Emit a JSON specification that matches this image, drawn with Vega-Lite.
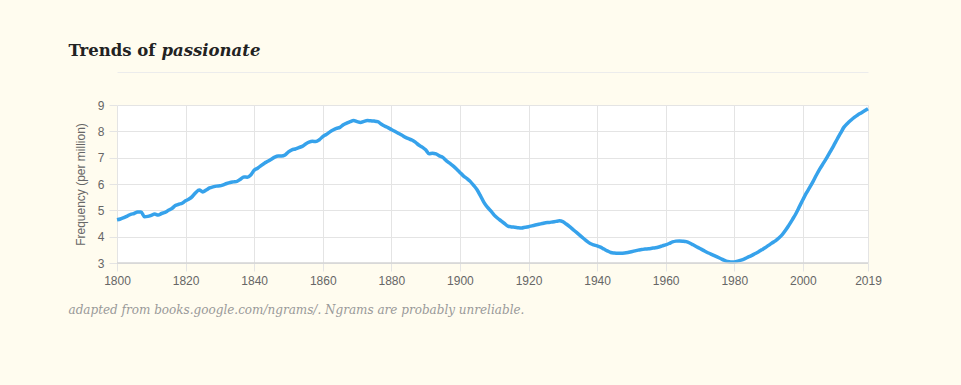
{
  "$schema": "https://vega.github.io/schema/vega-lite/v6.json",
  "width": 751,
  "height": 158,
  "autosize": {"type": "none"},
  "padding": {"left": 117, "top": 105, "right": 93, "bottom": 122},
  "background": "#fffcef",
  "view": {"fill": "white", "stroke": null},
  "data": {
    "values": [
      {"year": 1800, "freq": 4.64}, {"year": 1801, "freq": 4.67}, {"year": 1802, "freq": 4.72}, {"year": 1803, "freq": 4.78},
      {"year": 1804, "freq": 4.85}, {"year": 1805, "freq": 4.88}, {"year": 1806, "freq": 4.94}, {"year": 1807, "freq": 4.94},
      {"year": 1808, "freq": 4.76}, {"year": 1809, "freq": 4.77}, {"year": 1810, "freq": 4.81}, {"year": 1811, "freq": 4.86},
      {"year": 1812, "freq": 4.82}, {"year": 1813, "freq": 4.88}, {"year": 1814, "freq": 4.92}, {"year": 1815, "freq": 5.0},
      {"year": 1816, "freq": 5.07}, {"year": 1817, "freq": 5.18}, {"year": 1818, "freq": 5.23}, {"year": 1819, "freq": 5.27},
      {"year": 1820, "freq": 5.36}, {"year": 1821, "freq": 5.43}, {"year": 1822, "freq": 5.53}, {"year": 1823, "freq": 5.68},
      {"year": 1824, "freq": 5.77}, {"year": 1825, "freq": 5.7}, {"year": 1826, "freq": 5.77}, {"year": 1827, "freq": 5.85},
      {"year": 1828, "freq": 5.89}, {"year": 1829, "freq": 5.92}, {"year": 1830, "freq": 5.93}, {"year": 1831, "freq": 5.97},
      {"year": 1832, "freq": 6.02}, {"year": 1833, "freq": 6.06}, {"year": 1834, "freq": 6.08}, {"year": 1835, "freq": 6.1},
      {"year": 1836, "freq": 6.18}, {"year": 1837, "freq": 6.27}, {"year": 1838, "freq": 6.26}, {"year": 1839, "freq": 6.34},
      {"year": 1840, "freq": 6.52}, {"year": 1841, "freq": 6.6}, {"year": 1842, "freq": 6.7}, {"year": 1843, "freq": 6.79},
      {"year": 1844, "freq": 6.86}, {"year": 1845, "freq": 6.94}, {"year": 1846, "freq": 7.02}, {"year": 1847, "freq": 7.06},
      {"year": 1848, "freq": 7.06}, {"year": 1849, "freq": 7.1}, {"year": 1850, "freq": 7.22}, {"year": 1851, "freq": 7.3},
      {"year": 1852, "freq": 7.33}, {"year": 1853, "freq": 7.38}, {"year": 1854, "freq": 7.43}, {"year": 1855, "freq": 7.52},
      {"year": 1856, "freq": 7.59}, {"year": 1857, "freq": 7.62}, {"year": 1858, "freq": 7.61}, {"year": 1859, "freq": 7.68},
      {"year": 1860, "freq": 7.8}, {"year": 1861, "freq": 7.88}, {"year": 1862, "freq": 7.97}, {"year": 1863, "freq": 8.05},
      {"year": 1864, "freq": 8.11}, {"year": 1865, "freq": 8.15}, {"year": 1866, "freq": 8.25}, {"year": 1867, "freq": 8.31},
      {"year": 1868, "freq": 8.37}, {"year": 1869, "freq": 8.41}, {"year": 1870, "freq": 8.37}, {"year": 1871, "freq": 8.34},
      {"year": 1872, "freq": 8.38}, {"year": 1873, "freq": 8.41}, {"year": 1874, "freq": 8.4}, {"year": 1875, "freq": 8.39},
      {"year": 1876, "freq": 8.37}, {"year": 1877, "freq": 8.28}, {"year": 1878, "freq": 8.2}, {"year": 1879, "freq": 8.14},
      {"year": 1880, "freq": 8.07}, {"year": 1881, "freq": 8.0}, {"year": 1882, "freq": 7.93}, {"year": 1883, "freq": 7.86},
      {"year": 1884, "freq": 7.78}, {"year": 1885, "freq": 7.72}, {"year": 1886, "freq": 7.67}, {"year": 1887, "freq": 7.59},
      {"year": 1888, "freq": 7.48}, {"year": 1889, "freq": 7.4}, {"year": 1890, "freq": 7.3}, {"year": 1891, "freq": 7.15},
      {"year": 1892, "freq": 7.17}, {"year": 1893, "freq": 7.14}, {"year": 1894, "freq": 7.07}, {"year": 1895, "freq": 7.01},
      {"year": 1896, "freq": 6.89}, {"year": 1897, "freq": 6.79}, {"year": 1898, "freq": 6.69}, {"year": 1899, "freq": 6.57},
      {"year": 1900, "freq": 6.44}, {"year": 1901, "freq": 6.31}, {"year": 1902, "freq": 6.21}, {"year": 1903, "freq": 6.1},
      {"year": 1904, "freq": 5.95}, {"year": 1905, "freq": 5.78}, {"year": 1906, "freq": 5.55}, {"year": 1907, "freq": 5.3},
      {"year": 1908, "freq": 5.12}, {"year": 1909, "freq": 4.98}, {"year": 1910, "freq": 4.82}, {"year": 1911, "freq": 4.7},
      {"year": 1912, "freq": 4.6}, {"year": 1913, "freq": 4.5}, {"year": 1914, "freq": 4.4}, {"year": 1915, "freq": 4.37},
      {"year": 1916, "freq": 4.36}, {"year": 1917, "freq": 4.34}, {"year": 1918, "freq": 4.33}, {"year": 1919, "freq": 4.36},
      {"year": 1920, "freq": 4.38}, {"year": 1921, "freq": 4.41}, {"year": 1922, "freq": 4.44}, {"year": 1923, "freq": 4.47},
      {"year": 1924, "freq": 4.5}, {"year": 1925, "freq": 4.53}, {"year": 1926, "freq": 4.54}, {"year": 1927, "freq": 4.56},
      {"year": 1928, "freq": 4.58}, {"year": 1929, "freq": 4.6}, {"year": 1930, "freq": 4.57}, {"year": 1931, "freq": 4.48},
      {"year": 1932, "freq": 4.38}, {"year": 1933, "freq": 4.27}, {"year": 1934, "freq": 4.16}, {"year": 1935, "freq": 4.05},
      {"year": 1936, "freq": 3.94}, {"year": 1937, "freq": 3.83}, {"year": 1938, "freq": 3.74}, {"year": 1939, "freq": 3.69},
      {"year": 1940, "freq": 3.65}, {"year": 1941, "freq": 3.6}, {"year": 1942, "freq": 3.53}, {"year": 1943, "freq": 3.46},
      {"year": 1944, "freq": 3.4}, {"year": 1945, "freq": 3.38}, {"year": 1946, "freq": 3.37}, {"year": 1947, "freq": 3.37},
      {"year": 1948, "freq": 3.38}, {"year": 1949, "freq": 3.4}, {"year": 1950, "freq": 3.43}, {"year": 1951, "freq": 3.46},
      {"year": 1952, "freq": 3.49}, {"year": 1953, "freq": 3.51}, {"year": 1954, "freq": 3.53}, {"year": 1955, "freq": 3.54},
      {"year": 1956, "freq": 3.56}, {"year": 1957, "freq": 3.58}, {"year": 1958, "freq": 3.61}, {"year": 1959, "freq": 3.65},
      {"year": 1960, "freq": 3.69}, {"year": 1961, "freq": 3.74}, {"year": 1962, "freq": 3.8}, {"year": 1963, "freq": 3.83},
      {"year": 1964, "freq": 3.84}, {"year": 1965, "freq": 3.83}, {"year": 1966, "freq": 3.81}, {"year": 1967, "freq": 3.76},
      {"year": 1968, "freq": 3.69}, {"year": 1969, "freq": 3.62}, {"year": 1970, "freq": 3.55}, {"year": 1971, "freq": 3.48},
      {"year": 1972, "freq": 3.41}, {"year": 1973, "freq": 3.35}, {"year": 1974, "freq": 3.29}, {"year": 1975, "freq": 3.23},
      {"year": 1976, "freq": 3.17}, {"year": 1977, "freq": 3.11}, {"year": 1978, "freq": 3.06}, {"year": 1979, "freq": 3.04},
      {"year": 1980, "freq": 3.04}, {"year": 1981, "freq": 3.07}, {"year": 1982, "freq": 3.11}, {"year": 1983, "freq": 3.16},
      {"year": 1984, "freq": 3.22}, {"year": 1985, "freq": 3.28}, {"year": 1986, "freq": 3.35}, {"year": 1987, "freq": 3.42},
      {"year": 1988, "freq": 3.5}, {"year": 1989, "freq": 3.58}, {"year": 1990, "freq": 3.67}, {"year": 1991, "freq": 3.76},
      {"year": 1992, "freq": 3.84}, {"year": 1993, "freq": 3.95}, {"year": 1994, "freq": 4.08}, {"year": 1995, "freq": 4.25},
      {"year": 1996, "freq": 4.45}, {"year": 1997, "freq": 4.66}, {"year": 1998, "freq": 4.88}, {"year": 1999, "freq": 5.14},
      {"year": 2000, "freq": 5.4}, {"year": 2001, "freq": 5.65}, {"year": 2002, "freq": 5.87}, {"year": 2003, "freq": 6.1},
      {"year": 2004, "freq": 6.35}, {"year": 2005, "freq": 6.58}, {"year": 2006, "freq": 6.79}, {"year": 2007, "freq": 7.0},
      {"year": 2008, "freq": 7.23}, {"year": 2009, "freq": 7.46}, {"year": 2010, "freq": 7.7}, {"year": 2011, "freq": 7.93},
      {"year": 2012, "freq": 8.16}, {"year": 2013, "freq": 8.3}, {"year": 2014, "freq": 8.42}, {"year": 2015, "freq": 8.53},
      {"year": 2016, "freq": 8.62}, {"year": 2017, "freq": 8.7}, {"year": 2018, "freq": 8.78}, {"year": 2019, "freq": 8.86}
    ]
  },
  "layer": [
    {
      "mark": {"type": "line", "color": "#36a2eb", "strokeWidth": 3.5, "interpolate": "monotone"},
      "encoding": {
        "x": {
          "field": "year",
          "type": "quantitative",
          "scale": {"domain": [1800, 2019], "nice": false, "zero": false},
          "axis": {
            "orient": "bottom",
            "values": [1800, 1820, 1840, 1860, 1880, 1900, 1920, 1940, 1960, 1980, 2000, 2019],
            "format": "d",
            "grid": true,
            "gridColor": "#e4e4e4",
            "domain": false,
            "tickColor": "#e4e4e4",
            "tickSize": 8,
            "labelFont": "Liberation Sans",
            "labelFontSize": 12,
            "labelColor": "#666666",
            "labelPadding": 4,
            "labelFlush": false,
            "labelOverlap": false,
            "title": "adapted from books.google.com/ngrams/. Ngrams are probably unreliable.",
            "titleFont": "DejaVu Serif",
            "titleFontStyle": "italic",
            "titleFontWeight": "normal",
            "titleFontSize": 12,
            "titleColor": "#999999",
            "titleAnchor": "start",
            "titleAlign": "left",
            "titleBaseline": "middle",
            "titleX": -49,
            "titleY": 46
          }
        },
        "y": {
          "field": "freq",
          "type": "quantitative",
          "scale": {"domain": [3, 9], "nice": false, "zero": false},
          "axis": {
            "orient": "left",
            "values": [3, 4, 5, 6, 7, 8, 9],
            "grid": true,
            "gridColor": "#e4e4e4",
            "domain": false,
            "tickColor": "#e4e4e4",
            "tickSize": 8,
            "labelFont": "Liberation Sans",
            "labelFontSize": 12,
            "labelColor": "#666666",
            "labelPadding": 5,
            "title": "Frequency  (per million)",
            "titleFont": "Liberation Sans",
            "titleFontSize": 12,
            "titleFontWeight": "normal",
            "titleColor": "#666666",
            "titlePadding": 10
          }
        }
      }
    },
    {
      "mark": {"type": "rule", "color": "#d4d4d4", "strokeWidth": 1.5},
      "encoding": {
        "x": {
          "aggregate": "min",
          "field": "year",
          "type": "quantitative",
          "axis": {
            "orient": "top",
            "offset": 33,
            "grid": false,
            "labels": false,
            "ticks": false,
            "domain": true,
            "domainColor": "#ececec",
            "domainWidth": 1,
            "title": "passionate",
            "titleFont": "DejaVu Serif",
            "titleFontSize": 16.5,
            "titleFontWeight": "bold",
            "titleFontStyle": "italic",
            "titleColor": "#222222",
            "titleAlign": "left",
            "titleBaseline": "alphabetic",
            "titleAnchor": "start",
            "titleX": 44,
            "titleY": -17
          }
        },
        "x2": {"aggregate": "max", "field": "year"},
        "y": {
          "datum": 3,
          "type": "quantitative",
          "axis": {
            "orient": "right",
            "grid": false,
            "labels": false,
            "ticks": false,
            "domain": false,
            "title": "Trends of",
            "titleAngle": 0,
            "titleFont": "DejaVu Serif",
            "titleFontSize": 16.5,
            "titleFontWeight": "bold",
            "titleFontStyle": "normal",
            "titleColor": "#222222",
            "titleAlign": "left",
            "titleBaseline": "alphabetic",
            "titleAnchor": "start",
            "titleX": -800,
            "titleY": -50
          }
        }
      }
    }
  ]
}
